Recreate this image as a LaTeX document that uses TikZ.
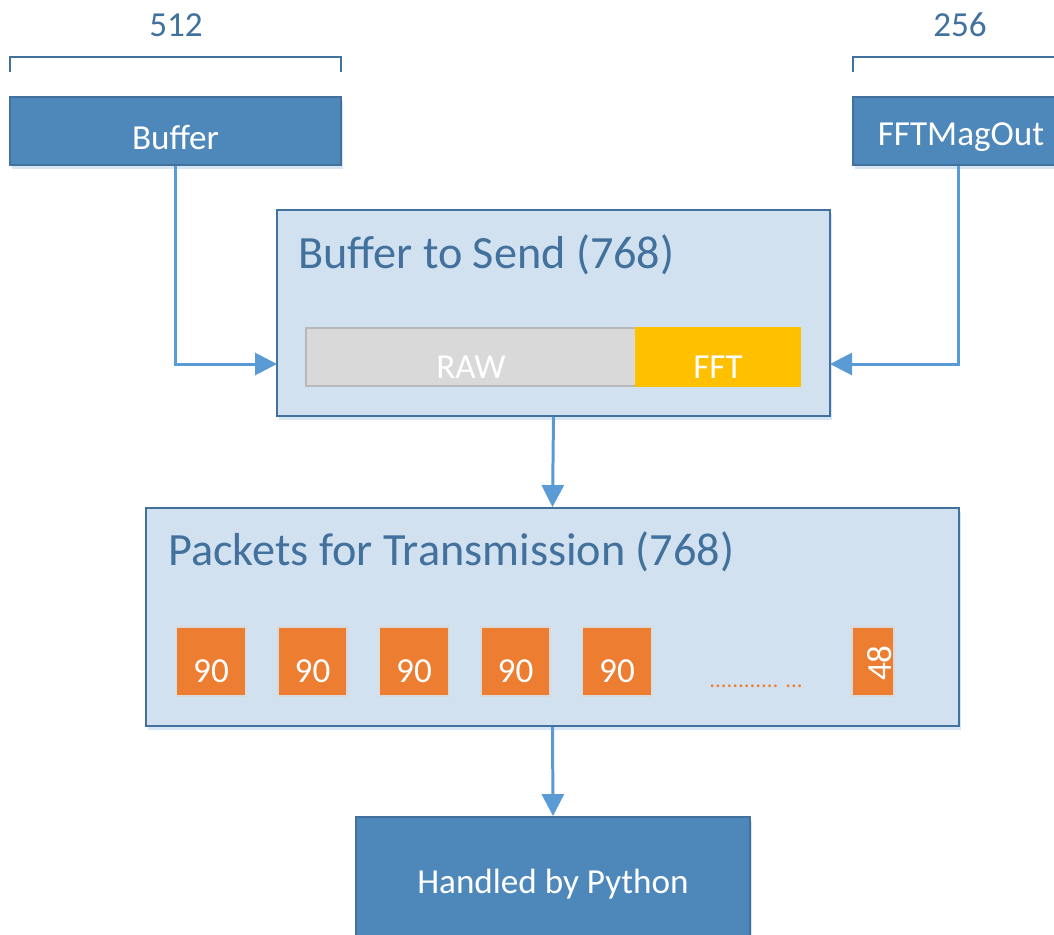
\documentclass[tikz,border=0pt]{standalone}
\usepackage{fontspec}
\setmainfont{Carlito}
\usetikzlibrary{arrows.meta,shadows}

\definecolor{darkbox}{HTML}{4E88BB}
\definecolor{darkline}{HTML}{41719C}
\definecolor{lightbox}{HTML}{D2E1F0}
\definecolor{flowblue}{HTML}{5B9BD5}
\definecolor{pktorange}{HTML}{ED7D31}
\definecolor{fftgold}{HTML}{FFC000}
\definecolor{rawgray}{HTML}{D9D9D9}

\tikzset{
	darkblock/.style={draw=darkline, line width=1.1pt, fill=darkbox, text=white, inner sep=0pt,
		minimum height=1.36cm, font=\fontsize{20}{24}\selectfont,
		drop shadow={shadow xshift=0.04cm, shadow yshift=-0.08cm, fill=flowblue, opacity=0.25}},
	lightblock/.style={draw=darkline, line width=1.1pt, fill=lightbox, inner sep=0pt,
		drop shadow={shadow xshift=0.04cm, shadow yshift=-0.08cm, fill=flowblue, opacity=0.25}},
	title/.style={text=darkline, anchor=west, inner sep=0pt, font=\fontsize{26.3}{31}\selectfont},
	count/.style={text=darkline, inner sep=0pt, font=\fontsize{20}{24}\selectfont},
	bracket/.style={draw=darkline, line width=1.1pt},
	part/.style={inner sep=0pt, minimum height=1.16cm, line width=0.8pt},
	packet/.style={fill=pktorange, draw=rawgray, line width=0.8pt, inner sep=0pt,
		minimum height=1.38cm, minimum width=1.38cm},
	flow/.style={draw=flowblue, line width=1.7pt, -{Triangle[length=0.44cm, width=0.44cm]}},
	whitetext/.style={text=white, inner sep=0pt, font=\fontsize{20}{24}\selectfont}
}

\begin{document}
\begin{tikzpicture}[x=0.02cm, y=-0.02cm]
			%%%%% START %%%%%
			\useasboundingbox (0,0) rectangle (1054,934);
			
			% sizes above the inputs
			\node[count] (n512) at (176,25) {512};
			\draw[bracket] (10,72) -- (10,57) -- (341,57) -- (341,72);
			\node[count] (n256) at (960,25) {256};
			\draw[bracket] (853,72) -- (853,57) -- (1070,57);
			
			% inputs
			\node[darkblock, minimum width=6.62cm,
				label={[whitetext, yshift=-0.13cm]center:Buffer}] (buf) at (175.5,131) {};
			\node[darkblock, minimum width=4.32cm,
				label={[whitetext, yshift=-0.13cm]center:FFTMagOut}] (fftmag) at (961,131) {};
			
			% buffer to send
			\node[lightblock, minimum width=11.06cm, minimum height=4.12cm] (send) at (553.5,313) {};
			\node[title] (sendtitle) at (298,255) {Buffer to Send (768)};
			\node[part, fill=rawgray, draw=rawgray!85!black, minimum width=6.6cm,
				label={[whitetext, yshift=-0.2cm]center:RAW}] (raw) at (471,357) {};
			\node[part, fill=fftgold, draw=fftgold, minimum width=3.28cm,
				label={[whitetext, yshift=-0.2cm]center:FFT}] (fft) at (718,357) {};
			\coordinate (inL) at (277,364);
			\coordinate (inR) at (830,364);
			
			% packets
			\node[lightblock, minimum width=16.26cm, minimum height=4.36cm] (pkt) at (552.5,617) {};
			\node[title] (pkttitle) at (168,552) {Packets for Transmission (768)};
			\foreach \i/\x in {1/211, 2/312.5, 3/414, 4/515.5, 5/617} {
				\node[packet, label={[whitetext, yshift=-0.19cm]center:90}] (p\i) at (\x,661.5) {};
			}
			\node[text=pktorange, inner sep=0pt, font=\fontsize{13}{15}\selectfont] (dots) at (756,686) {............ ...};
			\node[packet, minimum width=0.84cm] (plast) at (873,661.5) {};
			\node[whitetext, rotate=90] (plasttxt) at (880,663) {48};
			
			% output
			\node[darkblock, minimum width=7.88cm, minimum height=2.7cm] (py) at (553,884.5) {Handled by Python};
			
			% flow
			\draw[flow] (buf.south) |- (inL);
			\draw[flow] (fftmag.south -| 958,0) |- (inR);
			\draw[flow] (send.south) -- (pkt.north);
			\draw[flow] (pkt.south) -- (py.north);
			
			%%%%% END %%%%%
\end{tikzpicture}
\end{document}
